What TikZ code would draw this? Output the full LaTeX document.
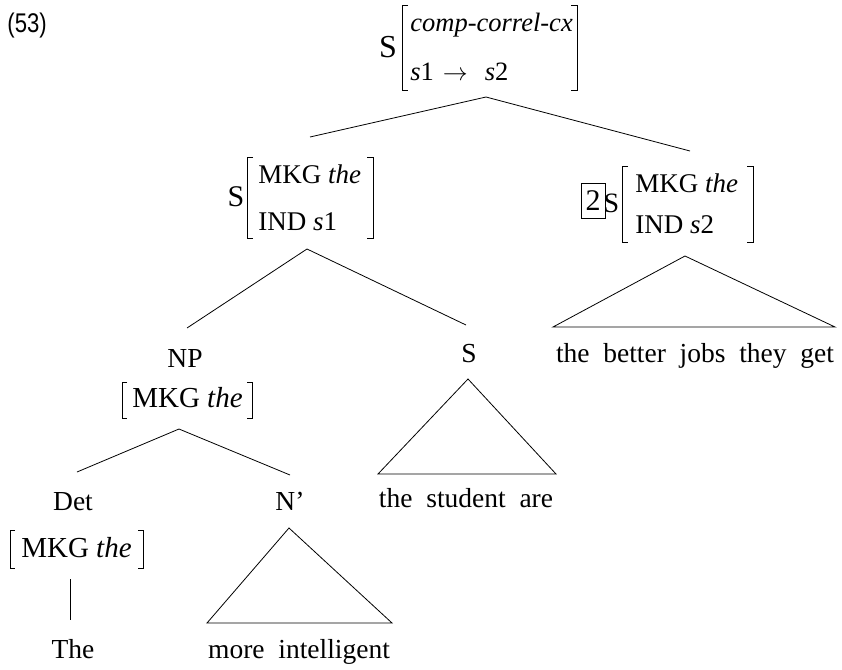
\documentclass[tikz,border=0pt]{standalone}
\usepackage{fontspec}
\setmainfont{Liberation Serif}
\newfontfamily\exfont[FakeStretch=0.82]{Liberation Sans}
\newcommand\widewords{\spaceskip=0.5em\relax}
\begin{document}
\begin{tikzpicture}[x=1pt,y=-1pt,line width=0.8pt,
  txt/.style={inner sep=0pt,anchor=base},
  cat/.style={txt,font=\fontsize{30}{34}\selectfont},
  feat/.style={txt,anchor=base west,font=\fontsize{27}{30}\selectfont},
  word/.style={txt,font=\fontsize{27.5}{31}\selectfont},
  bfeat/.style={txt,font=\fontsize{29}{32}\selectfont},
  tagbox/.style={draw,inner sep=0pt,minimum width=24pt,minimum height=35pt,
    font=\fontsize{30}{33}\selectfont},
  branch/.style={line width=0.8pt},
  brk/.style={line width=0.8pt}]
\useasboundingbox (0,0) rectangle (842,669);

% example number
\node[txt,anchor=base west,font=\exfont\fontsize{27}{30}\selectfont] (exnum) at (7,33) {(53)};

% ---- root: S [comp-correl-cx, s1 -> s2]
\node[cat,font=\fontsize{32}{36}\selectfont] (root) at (388,57) {S};
\node[feat,font=\fontsize{26.5}{30}\selectfont] (rootA) at (410,32) {\textit{comp-correl-cx}};
\node[feat,font=\fontsize{26.5}{30}\selectfont] (rootB) at (410,80)
  {\textit{s}1\hspace{9pt}$\rightarrow$\hspace{17pt}\textit{s}2};
\draw[brk] (408,5) -- (402,5) -- (402,90) -- (408,90);
\draw[brk] (571,5) -- (577,5) -- (577,90) -- (571,90);
\coordinate (root-foot) at (486,97);

% ---- left daughter: S [MKG the, IND s1]
\node[cat] (sl) at (236,206) {S};
\node[feat] (slA) at (258,183) {MKG \textit{the}};
\node[feat] (slB) at (258,230) {IND \textit{s}1};
\draw[brk] (253,157) -- (247,157) -- (247,238) -- (253,238);
\draw[brk] (367,157) -- (373,157) -- (373,238) -- (367,238);
\coordinate (sl-head) at (310,137);
\coordinate (sl-foot) at (307,249);

% ---- right daughter: [2] S [MKG the, IND s2]
\node[tagbox] (tag) at (593,200.5) {2};
\node[cat,font=\fontsize{28}{32}\selectfont] (sr) at (611.5,212) {S};
\node[feat] (srA) at (635,192) {MKG \textit{the}};
\node[feat] (srB) at (635,233) {IND \textit{s}2};
\draw[brk] (628,166) -- (622,166) -- (622,242) -- (628,242);
\draw[brk] (747,166) -- (753,166) -- (753,242) -- (747,242);
\coordinate (sr-head) at (690,151);
\coordinate (sr-foot) at (685,256);
\coordinate (sr-bl) at (553,327);
\coordinate (sr-br) at (835,327);
\node[word] (srW) at (695,362) {\widewords the better jobs they get};

% root branches
\draw[branch] (root-foot) -- (sl-head);
\draw[branch] (root-foot) -- (sr-head);
\draw[branch] (sr-foot) -- (sr-bl) -- (sr-br) -- cycle;

% ---- NP [MKG the]
\node[word] (np) at (185,367) {NP};
\node[bfeat] (npF) at (187.5,407) {MKG \textit{the}};
\draw[brk] (127,382) -- (122,382) -- (122,418) -- (127,418);
\draw[brk] (247,382) -- (252,382) -- (252,418) -- (247,418);
\coordinate (np-head) at (187,328);
\coordinate (np-foot) at (179,429);

% ---- embedded S
\node[word] (sm) at (469,362) {S};
\coordinate (sm-head) at (466,325);
\coordinate (sm-foot) at (468,379);
\coordinate (sm-bl) at (378,474);
\coordinate (sm-br) at (556,474);
\node[word] (smW) at (466,507) {\widewords the student are};

\draw[branch] (sl-foot) -- (np-head);
\draw[branch] (sl-foot) -- (sm-head);
\draw[branch] (sm-foot) -- (sm-bl) -- (sm-br) -- cycle;

% ---- Det [MKG the]
\node[word] (det) at (73,510) {Det};
\node[bfeat] (detF) at (76.5,557) {MKG \textit{the}};
\draw[brk] (15,530) -- (10,530) -- (10,568) -- (15,568);
\draw[brk] (138,530) -- (143,530) -- (143,568) -- (138,568);
\coordinate (det-head) at (77,472);
\coordinate (det-foot) at (70,579);
\coordinate (the-head) at (70,620);
\node[word] (the) at (73,658) {The};

% ---- N'
\node[word] (nbar) at (290,510) {N’};
\coordinate (nbar-head) at (290,475);
\coordinate (nbar-foot) at (289,528);
\coordinate (nbar-bl) at (207,623);
\coordinate (nbar-br) at (392,623);
\node[word] (nbarW) at (299,658) {\widewords more intelligent};

\draw[branch] (np-foot) -- (det-head);
\draw[branch] (np-foot) -- (nbar-head);
\draw[branch] (det-foot) -- (the-head);
\draw[branch] (nbar-foot) -- (nbar-bl) -- (nbar-br) -- cycle;
\end{tikzpicture}
\end{document}
